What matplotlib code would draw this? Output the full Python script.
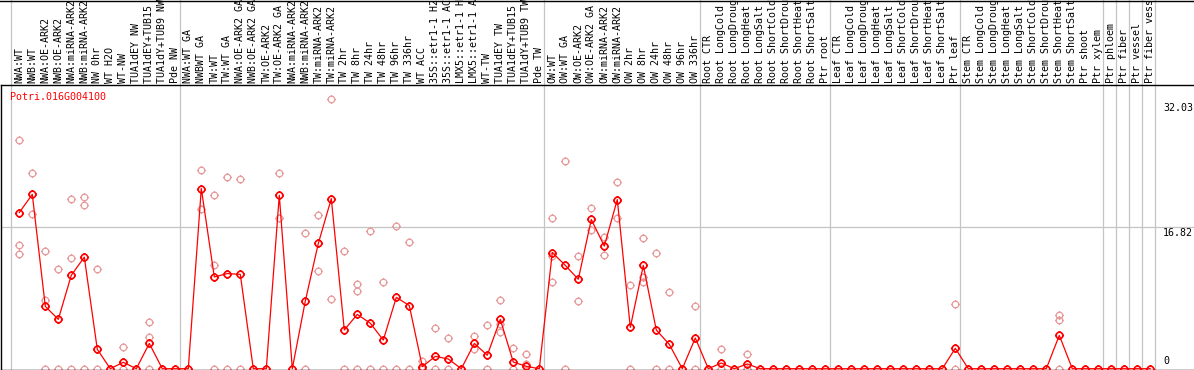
import numpy as np
import matplotlib
matplotlib.use('Agg')
import matplotlib.pyplot as plt
from matplotlib.path import Path
from matplotlib.lines import Line2D

# gene shown in the chart
gene = 'Potri.016G004100'

# sample groups (sizes follow the grey separators)
group_sizes = [13, 28, 12, 10, 10, 11, 1, 1, 1, 1]

samples = [
    'NWA:WT', 'NWB:WT', 'NWA:OE-ARK2', 'NWB:OE-ARK2', 'NWA:miRNA-ARK2', 'NWB:miRNA-ARK2',
    'NW 0hr', 'WT H2O', 'WT-NW', 'TUA1dEY NW', 'TUA1dEY+TUB15 NW', 'TUA1dY+TUB9 NW', 'Pde NW',
    'NWA:WT GA', 'NWBWT GA', 'TW:WT', 'TW:WT GA', 'NWA:OE-ARK2 GA', 'NWB:OE-ARK2 GA',
    'TW:OE-ARK2', 'TW:OE-ARK2 GA', 'NWA:miRNA-ARK2', 'NWB:miRNA-ARK2', 'TW:miRNA-ARK2',
    'TW:miRNA-ARK2', 'TW 2hr', 'TW 8hr', 'TW 24hr', 'TW 48hr', 'TW 96hr', 'TW 336hr', 'WT ACC',
    '35S::etr1-1 H2O', '35S::etr1-1 ACC', 'LMX5::etr1-1 H2O', 'LMX5::etr1-1 ACC', 'WT-TW',
    'TUA1dEY TW', 'TUA1dEY+TUB15 TW', 'TUA1dY+TUB9 TW', 'Pde TW',
    'OW:WT', 'OW:WT GA', 'OW:OE-ARK2', 'OW:OE-ARK2 GA', 'OW:miRNA-ARK2', 'OW:miRNA-ARK2',
    'OW 2hr', 'OW 8hr', 'OW 24hr', 'OW 48hr', 'OW 96hr', 'OW 336hr',
    'Root CTR', 'Root LongCold', 'Root LongDrought', 'Root LongHeat', 'Root LongSalt',
    'Root ShortCold', 'Root ShortDrought', 'Root ShortHeat', 'Root ShortSalt', 'Ptr root',
    'Leaf CTR', 'Leaf LongCold', 'Leaf LongDrought', 'Leaf LongHeat', 'Leaf LongSalt',
    'Leaf ShortCold', 'Leaf ShortDrought', 'Leaf ShortHeat', 'Leaf ShortSalt', 'Ptr leaf',
    'Stem CTR', 'Stem LongCold', 'Stem LongDrought', 'Stem LongHeat', 'Stem LongSalt',
    'Stem ShortCold', 'Stem ShortDrought', 'Stem ShortHeat', 'Stem ShortSalt', 'Ptr shoot',
    'Ptr xylem',
    'Ptr phloem', 'Ptr fiber', 'Ptr vessel', 'Ptr fiber vessel',
]

# mean expression per sample
means = [
    18.55, 20.7, 7.4, 5.86, 11.1, 13.25, 2.3, 0, 0.76, 0, 3.0, 0, 0,
    0, 21.4, 10.9, 11.3, 11.2, 0, 0, 20.6, 0, 8.03, 14.87, 20.2, 4.6, 6.45, 5.4, 3.4,
    8.47, 7.5, 0.24, 1.47, 1.15, 0, 3.0, 1.6, 5.86, 0.79, 0.28, 0,
    13.8, 12.27, 10.62, 17.72, 14.56, 20.09, 4.91, 12.27, 4.59, 2.89, 0, 3.65,
    0, 0.67, 0, 0.56, 0, 0, 0, 0, 0, 0,
    0, 0, 0, 0, 0, 0, 0, 0, 0, 2.42,
    0, 0, 0, 0, 0, 0, 0, 3.96, 0, 0, 0,
    0, 0, 0, 0,
]

# individual replicates per sample
replicates = [
    [27.2, 14.75, 13.6], [23.3, 18.4], [14.0, 8.2, 0], [11.8, 0], [20.1, 13.1, 0],
    [20.45, 19.4, 0], [11.9, 0], [], [2.57, 0], [], [5.5, 3.76, 0], [], [],
    [], [23.65, 19.0], [20.6, 12.3, 0], [22.8, 0], [22.5, 0], [], [], [23.2, 17.85], [],
    [16.06, 0], [18.2, 11.55], [32.03, 8.23], [14.0, 0], [10.1, 9.2, 0], [16.3, 0],
    [10.25, 0], [17.0, 0], [15.1, 0], [0.95, 0], [4.83, 0], [3.64, 0], [], [3.88, 2.3],
    [5.15, 0], [8.1, 5.3, 4.3], [2.46, 0], [1.8, 0.5], [],
    [17.9, 10.25, 13.4], [24.7, 0], [13.37, 8.03], [19.03, 16.45], [15.6, 13.45],
    [22.2, 17.9], [9.9, 0], [15.5, 10.9, 10.3], [13.8, 0], [9.06, 0], [], [7.4, 0],
    [], [2.3, 0], [], [1.74, 0], [], [], [], [], [], [],
    [], [], [], [], [], [], [], [], [], [7.64, 0],
    [], [], [], [], [], [], [], [6.37, 5.78, 0], [], [], [],
    [], [], [], [],
]

y_max = 32.03
y_mid = 16.82

W, H = 1194, 370
fig = plt.figure(figsize=(W / 100, H / 100), dpi=100)

# plot area in pixels
left_px, right_px, top_px, bottom_px = 1, 1194, 85, 369.5
ax = fig.add_axes([left_px / W, (H - bottom_px) / H,
                   (right_px - left_px) / W, (bottom_px - top_px) / H])

# pixel mapping of the original chart
x0_px, step_px = 19.3, 13.0
zero_px, px_per_unit = 368.7, 8.42
ax.set_xlim((left_px - x0_px) / step_px, (right_px - x0_px) / step_px)
ax.set_ylim((zero_px - bottom_px) / px_per_unit, (zero_px - top_px) / px_per_unit)
ax.set_xticks([])
ax.set_yticks([])
for side in ['left', 'top', 'bottom']:
    ax.spines[side].set_color('black')
    ax.spines[side].set_linewidth(1.0)
ax.spines['right'].set_visible(False)

grey = '#c4c4c4'
mono = 'DejaVu Sans Mono'

# horizontal grid line at the middle value
ax.axhline(y_mid, color=grey, lw=0.9, zorder=0)

# group separators running through the header too
starts = np.cumsum([0] + group_sizes)
for s in starts:
    ax.axvline(s - 8 / step_px, ymin=0, ymax=1.5, color=grey, lw=0.9,
               clip_on=False, zorder=0)

# black line along the very top
fig.add_artist(Line2D([0, 1], [1 - 0.6 / H, 1 - 0.6 / H], transform=fig.transFigure,
                      color='black', lw=1.0))

# marker: open circle with four small ticks
ticks = [Path([(1, 0), (1.35, 0)]), Path([(-1, 0), (-1.35, 0)]),
         Path([(0, 1), (0, 1.35)]), Path([(0, -1), (0, -1.35)])]
ring = Path.make_compound_path(Path.unit_circle(), *ticks)

x = np.arange(len(samples))
rx = np.concatenate([[i] * len(r) for i, r in enumerate(replicates)])
ry = np.concatenate([r for r in replicates])

ax.plot(rx, ry, linestyle='none', marker=ring, ms=6.4, mfc='none',
        mec='#e99a9a', mew=0.9, zorder=2)
ax.plot(x, means, color='red', lw=0.9, marker=ring, ms=6.4, mfc='none',
        mec='red', mew=1.2, zorder=3)

# sample names in the header
for i, name in enumerate(samples):
    ax.annotate(name, xy=(i, 1), xycoords=('data', 'axes fraction'),
                xytext=(0, 2), textcoords='offset pixels', rotation=90,
                ha='center', va='bottom', fontsize=7.2, family=mono,
                annotation_clip=False)

# gene name
ax.annotate(gene, xy=(0, 1), xycoords='axes fraction', xytext=(9, -12),
            textcoords='offset pixels', ha='left', va='center', color='red',
            fontsize=7.2, family=mono)

# value labels on the right
ax.annotate(f'{y_max:.2f}', xy=(1, y_max), xycoords=('axes fraction', 'data'),
            xytext=(-31, -4), textcoords='offset pixels', ha='left', va='top',
            fontsize=7.2, family=mono, annotation_clip=False)
ax.annotate(f'{y_mid:.2f}', xy=(1, y_mid), xycoords=('axes fraction', 'data'),
            xytext=(-31, -1), textcoords='offset pixels', ha='left', va='top',
            fontsize=7.2, family=mono)
ax.annotate('0', xy=(1, 0), xycoords=('axes fraction', 'data'),
            xytext=(-31, 3), textcoords='offset pixels', ha='left', va='bottom',
            fontsize=7.2, family=mono)

fig.savefig('out.png', dpi=100)
